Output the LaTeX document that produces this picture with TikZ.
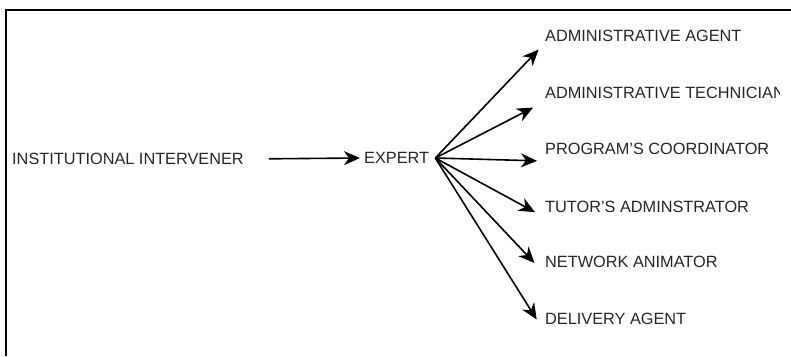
\documentclass[tikz,border=0pt]{standalone}
\usepackage{fontspec}
\setmainfont{Liberation Sans}
\usetikzlibrary{arrows.meta}
\begin{document}
\begin{tikzpicture}[x=1pt,y=-1pt,
  role/.style={anchor=west,inner xsep=3pt,inner ysep=3pt,text=black!85,font=\fontsize{16.3}{18}\selectfont},
  link/.style={line width=1.6pt,-{Stealth[length=16pt,width=14pt,inset=5pt]}}]
  \useasboundingbox (0,0) rectangle (791,356);
  % frame along the top and left edges
  \draw[line width=2pt] (6,356) -- (6,10) -- (791,10);
  % source chain
  \node[role] (inst) at (9,159) {INSTITUTIONAL INTERVENER};
  \node[role] (expert) at (361,158) {EXPERT};
  % roles reached from the expert
  \node[role] (aa) at (542,36)  {ADMINISTRATIVE AGENT};
  \begin{scope}
    \clip (500,80) rectangle (779,110);
    \node[role] (at) at (542,93)  {ADMINISTRATIVE TECHNICIAN};
  \end{scope}
  \node[role] (pc) at (542,149) {PROGRAM'S COORDINATOR};
  \node[role] (ta) at (542,207) {TUTOR'S ADMINSTRATOR};
  \node[role] (na) at (542,262) {NETWORK ANIMATOR};
  \node[role] (da) at (542,319) {DELIVERY AGENT};
  % connectors
  \draw[link,shorten <=22pt,shorten >=1pt] (inst.east) -- (expert.west);
  \coordinate (hub) at ([xshift=3pt]expert.east);
  \draw[link,shorten >=5pt] (hub) -- ([yshift=-1pt]aa.south west);
  \draw[link,shorten >=10pt] (hub) -- ([yshift=-1pt]at.south west);
  \draw[link,shorten >=5pt] (hub) -- ([yshift=-3pt]pc.south west);
  \draw[link,shorten >=8pt] (hub) -- (ta.south west);
  \draw[link,shorten >=11pt] (hub) -- (na.south west);
  \draw[link,shorten >=10pt] (hub) -- (da.south west);
\end{tikzpicture}
\end{document}
